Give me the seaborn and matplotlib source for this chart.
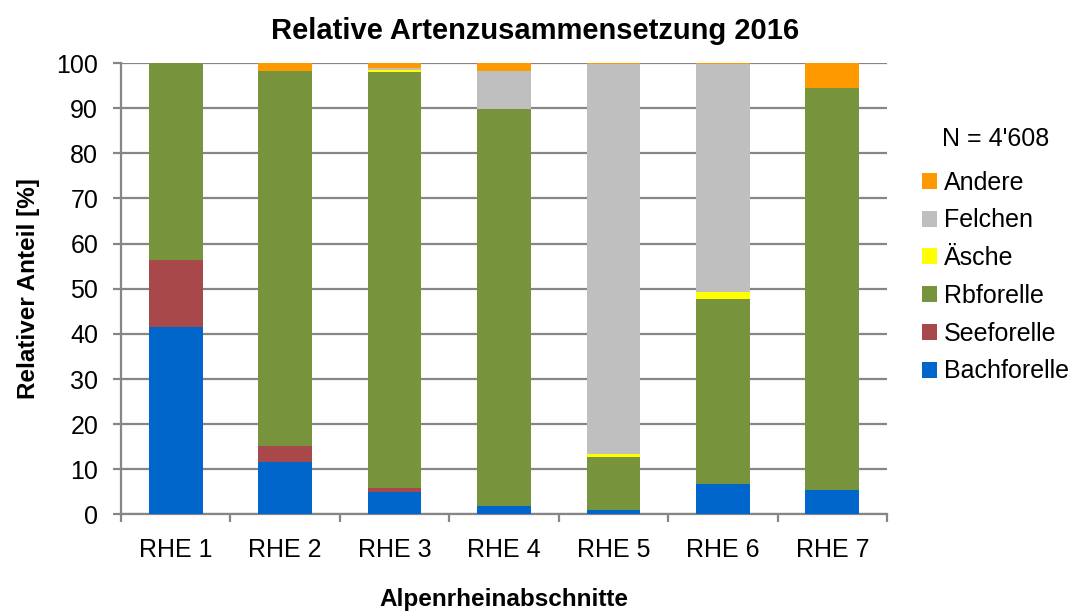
import matplotlib
matplotlib.use("Agg")
import matplotlib.pyplot as plt
import seaborn as sns
import numpy as np
import pandas as pd
from matplotlib.patches import Patch

categories = ["RHE 1", "RHE 2", "RHE 3", "RHE 4", "RHE 5", "RHE 6", "RHE 7"]
bachforelle = [41.6, 11.7, 5.0, 1.9, 1.0, 6.7, 5.4]
seeforelle = [14.7, 3.5, 0.8, 0.0, 0.0, 0.0, 0.0]
rbforelle = [43.7, 83.0, 92.1, 88.0, 11.8, 41.1, 89.0]
aesche = [0.0, 0.0, 0.6, 0.0, 0.7, 1.4, 0.0]
felchen = [0.0, 0.0, 0.3, 8.4, 86.3, 50.6, 0.0]
andere = [0.0, 1.8, 1.2, 1.7, 0.2, 0.2, 5.6]

series_names = ["Bachforelle", "Seeforelle", "Rbforelle", "Äsche", "Felchen", "Andere"]
series_vals = [bachforelle, seeforelle, rbforelle, aesche, felchen, andere]
colors = ["#0066CC", "#A9484A", "#77933C", "#FFFF00", "#BFBFBF", "#FF9900"]

sns.set_theme(style="white", rc={"text.color": "black", "axes.labelcolor": "black",
                                 "xtick.color": "black", "ytick.color": "black"})
plt.rcParams['font.family'] = ['Liberation Sans', 'DejaVu Sans']

fig = plt.figure(figsize=(10.77, 6.13), dpi=100)
ax = fig.add_axes([0.1124, 0.1607, 0.7112, 0.7365])

cum = np.cumsum(np.array(series_vals), axis=0)
for i in reversed(range(len(series_names))):
    df = pd.DataFrame({"cat": categories, "val": cum[i]})
    sns.barplot(data=df, x="cat", y="val", order=categories, color=colors[i],
                saturation=1, width=0.49, ax=ax, zorder=3, linewidth=0)

grid_c = "#868686"
ax.set_ylim(0, 100)
ax.set_xlim(-0.5, len(categories) - 0.5)
ax.set_yticks(range(0, 101, 10))
ax.yaxis.grid(True, color=grid_c, linewidth=1.6, zorder=0)
ax.set_axisbelow(True)
for s in ["top", "right"]:
    ax.spines[s].set_visible(False)
for s in ["left", "bottom"]:
    ax.spines[s].set_color(grid_c)
    ax.spines[s].set_linewidth(1.6)
ax.set_xticks(np.arange(len(categories)))
ax.set_xticklabels(categories)
ax.set_xticks(np.arange(-0.5, len(categories)), minor=True)
ax.tick_params(axis="x", which="major", length=0, labelsize=18, pad=17, labelcolor="black")
ax.tick_params(axis="x", which="minor", length=6, width=1.6, color=grid_c, direction="out", bottom=True)
ax.tick_params(axis="y", length=6, width=1.6, color=grid_c, labelcolor="black",
               labelsize=18, pad=10.5, left=True, direction="out")

ax.set_xlabel("Alpenrheinabschnitte", fontsize=17.5, fontweight="bold", labelpad=19, color="black")
ax.set_ylabel("Relativer Anteil [%]", fontsize=17.5, fontweight="bold", labelpad=12, color="black")
fig.suptitle("Relative Artenzusammensetzung 2016", fontsize=21, fontweight="bold",
             x=0.4967, y=1 - 31 / 613, va="center", ha="center", color="black")

handles = [Patch(facecolor=colors[i], edgecolor="none", label=series_names[i])
           for i in reversed(range(len(series_names)))]
leg = ax.legend(handles=handles, title="N = 4'608", loc="upper left",
                bbox_to_anchor=(1.032, 0.88), frameon=False, fontsize=18,
                title_fontsize=18, handlelength=0.6, handleheight=0.6,
                handletextpad=0.3, labelspacing=0.55, borderaxespad=0,
                labelcolor="black")
leg.get_title().set_color("black")
leg._legend_box.align = "center"
leg._legend_box.sep = 14

fig.savefig("out.png", dpi=100)
